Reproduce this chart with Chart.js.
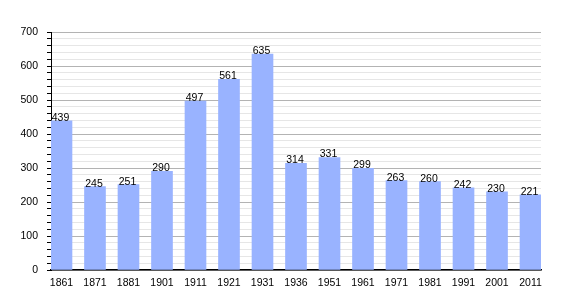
<!DOCTYPE html>
<html>
<head>
<meta charset="utf-8">
<script src="https://cdn.jsdelivr.net/npm/chart.js@4"></script>
<style>
  html, body { margin: 0; padding: 0; background: #fff; }
  #wrap { position: relative; width: 570px; height: 300px; }
</style>
</head>
<body>
<div id="wrap"><canvas id="popChart" width="570" height="300"></canvas></div>
<script>
const years = ['1861', '1871', '1881', '1901', '1911', '1921', '1931', '1936', '1951', '1961', '1971', '1981', '1991', '2001', '2011'];
const population = [439, 245, 251, 290, 497, 561, 635, 314, 331, 299, 263, 260, 242, 230, 221];
const yTicks = [0, 100, 200, 300, 400, 500, 600, 700];

const FONT = { family: '"Liberation Sans", Arial, sans-serif', size: 10.5 };

// Draw the value on top of each bar
const valueLabels = {
  id: 'valueLabels',
  afterDatasetsDraw(chart) {
    const ctx = chart.ctx;
    const meta = chart.getDatasetMeta(0);
    ctx.save();
    ctx.font = '10.5px "Liberation Sans", Arial, sans-serif';
    ctx.fillStyle = '#000';
    ctx.textAlign = 'center';
    ctx.textBaseline = 'alphabetic';
    meta.data.forEach((bar, i) => {
      ctx.fillText(population[i], bar.x - 1, bar.y);
    });
    ctx.restore();
  }
};

new Chart(document.getElementById('popChart').getContext('2d'), {
  type: 'bar',
  data: {
    datasets: [{
      data: population.map((v, i) => ({ x: i, y: v })),
      backgroundColor: '#99b3ff',
      borderWidth: 0,
      barThickness: 21
    }]
  },
  options: {
    responsive: false,
    animation: false,
    layout: { padding: { top: 32, right: 29, bottom: 0, left: 0 } },
    plugins: {
      legend: { display: false },
      tooltip: { enabled: false }
    },
    scales: {
      x: {
        type: 'linear',
        offset: false,
        min: -0.313,
        max: 14.313,
        afterBuildTicks: (scale) => { scale.ticks = years.map((_, i) => ({ value: i })); },
        afterFit: (scale) => { scale.height = 30; },
        grid: { display: false, drawTicks: false, offset: false },
        border: { color: '#000', width: 1.5 },
        ticks: {
          color: '#000',
          font: FONT,
          padding: 7,
          autoSkip: false,
          maxRotation: 0,
          callback: (v) => years[v]
        }
      },
      y: {
        min: 0,
        max: 700,
        afterFit: (scale) => { scale.width = 51; },
        border: { color: '#000', width: 1 },
        grid: {
          color: (c) => (c.tick && c.tick.value % 100 === 0) ? '#b3b3b3' : '#e6e6e6',
          tickColor: '#000',
          tickLength: 4
        },
        ticks: {
          stepSize: 20,
          autoSkip: false,
          color: '#000',
          font: FONT,
          padding: 9,
          callback: (v) => yTicks.includes(v) ? v : ''
        }
      }
    }
  },
  plugins: [valueLabels]
});
</script>
</body>
</html>
